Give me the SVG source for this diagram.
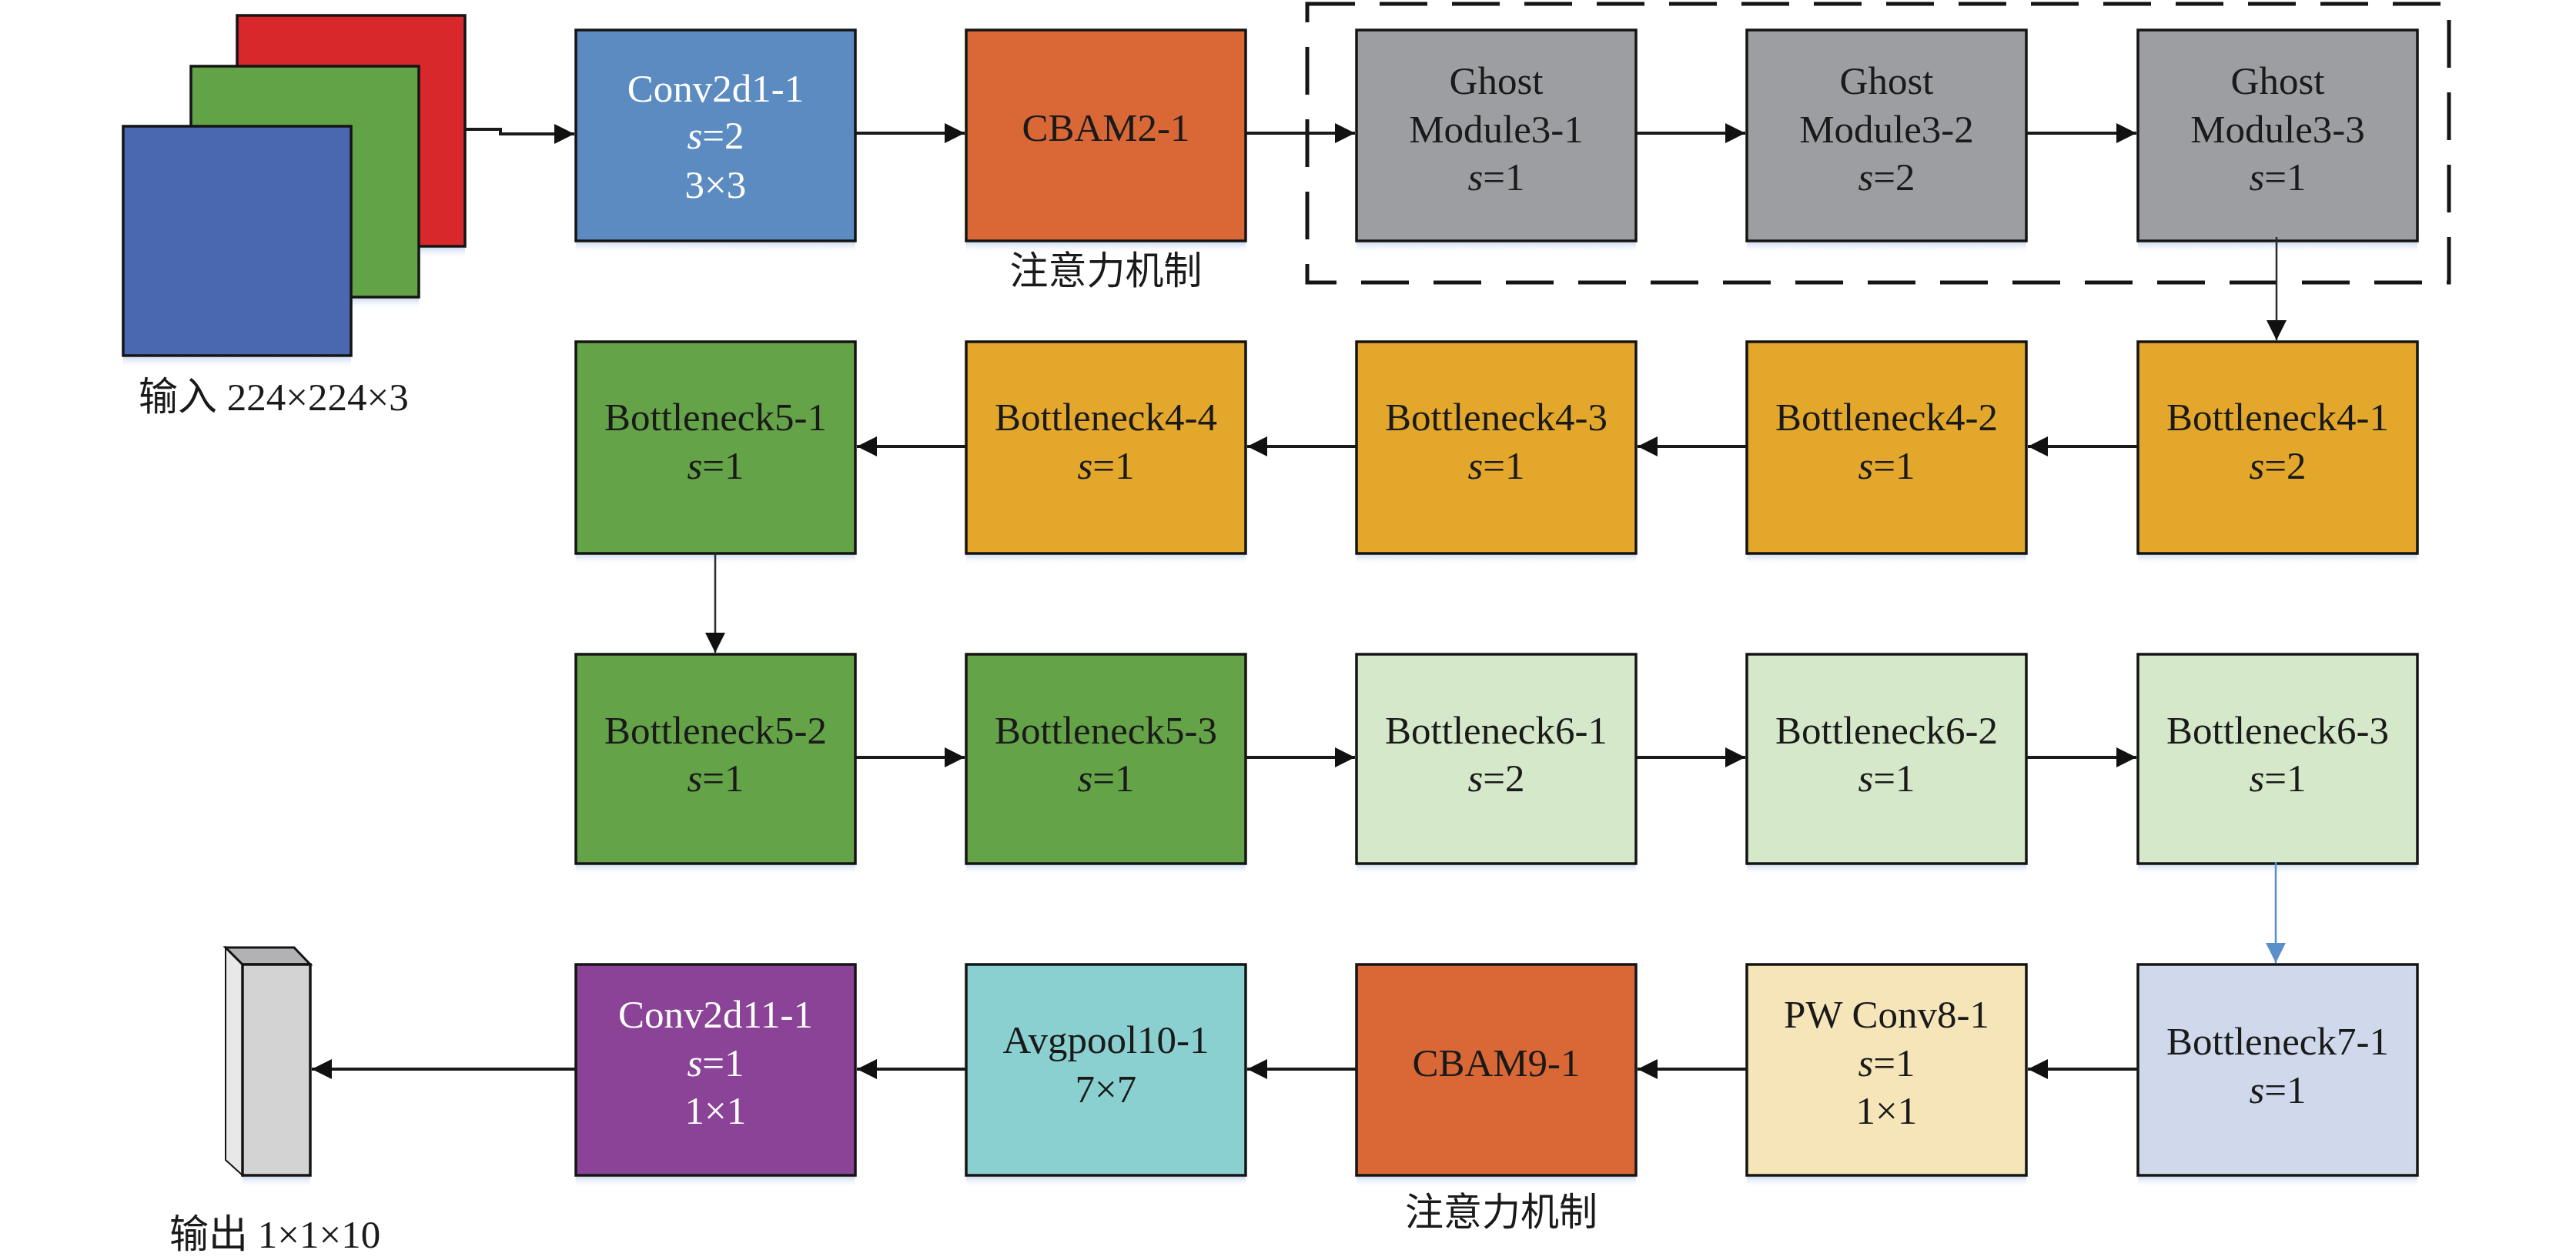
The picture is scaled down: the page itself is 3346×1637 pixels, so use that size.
<svg xmlns="http://www.w3.org/2000/svg" width="3346" height="1637" viewBox="0 0 3346 1637">
<defs>
<style>
.box{stroke:#141414;stroke-width:3.5}
.t{font-family:"Liberation Serif","Times New Roman",serif;font-size:51px;fill:#1a1a1a;text-anchor:middle}
.w{fill:#ffffff}
.i{font-style:italic}
.cn{font-family:"Liberation Serif","Noto Sans CJK SC",serif;font-size:51px;fill:#1a1a1a}
.cjk{font-family:"Noto Sans CJK SC",sans-serif;font-size:50px;fill:#1a1a1a;text-anchor:middle}
.conn{stroke:#1a1a1a;stroke-width:4;fill:none}
.vconn{stroke:#2a2a2a;stroke-width:2.5;fill:none}
.shadow{fill:url(#sh)}
</style>
<linearGradient id="sh" x1="0" y1="0" x2="0" y2="1">
<stop offset="0" stop-color="#c8d8ee" stop-opacity="0.9"/>
<stop offset="1" stop-color="#ffffff" stop-opacity="0"/>
</linearGradient>
<marker id="arr" viewBox="0 0 26 26" refX="26" refY="13" markerWidth="26" markerHeight="26" markerUnits="userSpaceOnUse" orient="auto">
<path d="M0,0 L26,13 L0,26 Z" fill="#111111"/>
</marker>
<marker id="arrb" viewBox="0 0 26 26" refX="26" refY="13" markerWidth="26" markerHeight="26" markerUnits="userSpaceOnUse" orient="auto">
<path d="M0,0 L26,13 L0,26 Z" fill="#5b8fc9"/>
</marker>
</defs>
<rect width="3346" height="1637" fill="#ffffff"/>

<!-- dashed group frame -->
<rect id="ghost-frame" x="1698" y="5" width="1483" height="362" fill="none" stroke="#151515" stroke-width="5" stroke-dasharray="62 32"/>

<!-- input stack -->
<g id="input">
<rect class="shadow" x="308" y="322" width="296" height="14"/>
<rect class="box" x="308" y="20" width="296" height="300" fill="#d8282b"/>
<rect class="shadow" x="248" y="388" width="296" height="14"/>
<rect class="box" x="248" y="86" width="296" height="300" fill="#63a347"/>
<rect class="shadow" x="160" y="464" width="296" height="14"/>
<rect class="box" x="160" y="164" width="296" height="298" fill="#4a68b0"/>
<text class="cn" x="180" y="533">输入 224×224×3</text>
</g>

<!-- row 1 -->
<g id="conv2d1-1">
<rect class="shadow" x="748" y="315" width="363" height="14"/>
<rect class="box" x="748" y="39" width="363" height="274" fill="#5b8bc0"/>
<text class="t w" x="929.5" y="132">Conv2d1-1</text>
<text class="t w" x="929.5" y="193"><tspan class="i">s</tspan>=2</text>
<text class="t w" x="929.5" y="257">3×3</text>
</g>
<g id="cbam2-1">
<rect class="shadow" x="1255" y="315" width="363" height="14"/>
<rect class="box" x="1255" y="39" width="363" height="274" fill="#d96836"/>
<text class="t" x="1436.5" y="183">CBAM2-1</text>
<text class="cjk" x="1436.5" y="369">注意力机制</text>
</g>
<g id="ghost3-1">
<rect class="shadow" x="1762" y="315" width="363" height="14"/>
<rect class="box" x="1762" y="39" width="363" height="274" fill="#9d9ea2"/>
<text class="t" x="1943.5" y="122">Ghost</text>
<text class="t" x="1943.5" y="185">Module3-1</text>
<text class="t" x="1943.5" y="247"><tspan class="i">s</tspan>=1</text>
</g>
<g id="ghost3-2">
<rect class="shadow" x="2269" y="315" width="363" height="14"/>
<rect class="box" x="2269" y="39" width="363" height="274" fill="#9d9ea2"/>
<text class="t" x="2450.5" y="122">Ghost</text>
<text class="t" x="2450.5" y="185">Module3-2</text>
<text class="t" x="2450.5" y="247"><tspan class="i">s</tspan>=2</text>
</g>
<g id="ghost3-3">
<rect class="shadow" x="2777" y="315" width="363" height="14"/>
<rect class="box" x="2777" y="39" width="363" height="274" fill="#9d9ea2"/>
<text class="t" x="2958.5" y="122">Ghost</text>
<text class="t" x="2958.5" y="185">Module3-3</text>
<text class="t" x="2958.5" y="247"><tspan class="i">s</tspan>=1</text>
</g>

<!-- row 2 -->
<g id="bottleneck5-1">
<rect class="shadow" x="748" y="720" width="363" height="14"/>
<rect class="box" x="748" y="444" width="363" height="275" fill="#64a347"/>
<text class="t" x="929.5" y="559">Bottleneck5-1</text>
<text class="t" x="929.5" y="622"><tspan class="i">s</tspan>=1</text>
</g>
<g id="bottleneck4-4">
<rect class="shadow" x="1255" y="720" width="363" height="14"/>
<rect class="box" x="1255" y="444" width="363" height="275" fill="#e3a72b"/>
<text class="t" x="1436.5" y="559">Bottleneck4-4</text>
<text class="t" x="1436.5" y="622"><tspan class="i">s</tspan>=1</text>
</g>
<g id="bottleneck4-3">
<rect class="shadow" x="1762" y="720" width="363" height="14"/>
<rect class="box" x="1762" y="444" width="363" height="275" fill="#e3a72b"/>
<text class="t" x="1943.5" y="559">Bottleneck4-3</text>
<text class="t" x="1943.5" y="622"><tspan class="i">s</tspan>=1</text>
</g>
<g id="bottleneck4-2">
<rect class="shadow" x="2269" y="720" width="363" height="14"/>
<rect class="box" x="2269" y="444" width="363" height="275" fill="#e3a72b"/>
<text class="t" x="2450.5" y="559">Bottleneck4-2</text>
<text class="t" x="2450.5" y="622"><tspan class="i">s</tspan>=1</text>
</g>
<g id="bottleneck4-1">
<rect class="shadow" x="2777" y="720" width="363" height="14"/>
<rect class="box" x="2777" y="444" width="363" height="275" fill="#e3a72b"/>
<text class="t" x="2958.5" y="559">Bottleneck4-1</text>
<text class="t" x="2958.5" y="622"><tspan class="i">s</tspan>=2</text>
</g>

<!-- row 3 -->
<g id="bottleneck5-2">
<rect class="shadow" x="748" y="1123" width="363" height="14"/>
<rect class="box" x="748" y="850" width="363" height="272" fill="#64a347"/>
<text class="t" x="929.5" y="966">Bottleneck5-2</text>
<text class="t" x="929.5" y="1028"><tspan class="i">s</tspan>=1</text>
</g>
<g id="bottleneck5-3">
<rect class="shadow" x="1255" y="1123" width="363" height="14"/>
<rect class="box" x="1255" y="850" width="363" height="272" fill="#64a347"/>
<text class="t" x="1436.5" y="966">Bottleneck5-3</text>
<text class="t" x="1436.5" y="1028"><tspan class="i">s</tspan>=1</text>
</g>
<g id="bottleneck6-1">
<rect class="shadow" x="1762" y="1123" width="363" height="14"/>
<rect class="box" x="1762" y="850" width="363" height="272" fill="#d5e8c9"/>
<text class="t" x="1943.5" y="966">Bottleneck6-1</text>
<text class="t" x="1943.5" y="1028"><tspan class="i">s</tspan>=2</text>
</g>
<g id="bottleneck6-2">
<rect class="shadow" x="2269" y="1123" width="363" height="14"/>
<rect class="box" x="2269" y="850" width="363" height="272" fill="#d5e8c9"/>
<text class="t" x="2450.5" y="966">Bottleneck6-2</text>
<text class="t" x="2450.5" y="1028"><tspan class="i">s</tspan>=1</text>
</g>
<g id="bottleneck6-3">
<rect class="shadow" x="2777" y="1123" width="363" height="14"/>
<rect class="box" x="2777" y="850" width="363" height="272" fill="#d5e8c9"/>
<text class="t" x="2958.5" y="966">Bottleneck6-3</text>
<text class="t" x="2958.5" y="1028"><tspan class="i">s</tspan>=1</text>
</g>

<!-- row 4 -->
<g id="output">
<rect class="shadow" x="315" y="1529" width="88" height="14"/>
<polygon points="293,1231 315,1253 315,1527 293,1507" fill="#e8e8e8" stroke="#141414" stroke-width="2"/>
<polygon points="293,1231 382,1231 403,1253 315,1253" fill="#b2b2b4" stroke="#141414" stroke-width="3"/>
<rect class="box" x="315" y="1253" width="88" height="274" fill="#d3d3d3"/>
<text class="cn" x="220" y="1621">输出 1×1×10</text>
</g>
<g id="conv2d11-1">
<rect class="shadow" x="748" y="1529" width="363" height="14"/>
<rect class="box" x="748" y="1253" width="363" height="274" fill="#8b4397"/>
<text class="t w" x="929.5" y="1335">Conv2d11-1</text>
<text class="t w" x="929.5" y="1398"><tspan class="i">s</tspan>=1</text>
<text class="t w" x="929.5" y="1460">1×1</text>
</g>
<g id="avgpool10-1">
<rect class="shadow" x="1255" y="1529" width="363" height="14"/>
<rect class="box" x="1255" y="1253" width="363" height="274" fill="#8ad0d0"/>
<text class="t" x="1436.5" y="1368">Avgpool10-1</text>
<text class="t" x="1436.5" y="1432">7×7</text>
</g>
<g id="cbam9-1">
<rect class="shadow" x="1762" y="1529" width="363" height="14"/>
<rect class="box" x="1762" y="1253" width="363" height="274" fill="#d96836"/>
<text class="t" x="1943.5" y="1398">CBAM9-1</text>
<text class="cjk" x="1950" y="1592">注意力机制</text>
</g>
<g id="pwconv8-1">
<rect class="shadow" x="2269" y="1529" width="363" height="14"/>
<rect class="box" x="2269" y="1253" width="363" height="274" fill="#f5e5b8"/>
<text class="t" x="2450.5" y="1335">PW Conv8-1</text>
<text class="t" x="2450.5" y="1398"><tspan class="i">s</tspan>=1</text>
<text class="t" x="2450.5" y="1460">1×1</text>
</g>
<g id="bottleneck7-1">
<rect class="shadow" x="2777" y="1529" width="363" height="14"/>
<rect class="box" x="2777" y="1253" width="363" height="274" fill="#d0d9ec"/>
<text class="t" x="2958.5" y="1370">Bottleneck7-1</text>
<text class="t" x="2958.5" y="1433"><tspan class="i">s</tspan>=1</text>
</g>

<!-- connectors -->
<g id="connectors">
<path class="conn" d="M604,168 H650 V174 H746" marker-end="url(#arr)"/>
<path class="conn" d="M1111,173 H1253" marker-end="url(#arr)"/>
<path class="conn" d="M1618,173 H1760" marker-end="url(#arr)"/>
<path class="conn" d="M2125,173 H2267" marker-end="url(#arr)"/>
<path class="conn" d="M2632,173 H2775" marker-end="url(#arr)"/>
<path class="vconn" d="M2957,308 V442" marker-end="url(#arr)"/>
<path class="conn" d="M2777,580 H2634" marker-end="url(#arr)"/>
<path class="conn" d="M2269,580 H2127" marker-end="url(#arr)"/>
<path class="conn" d="M1762,580 H1620" marker-end="url(#arr)"/>
<path class="conn" d="M1255,580 H1113" marker-end="url(#arr)"/>
<path class="vconn" d="M929,719 V848" marker-end="url(#arr)"/>
<path class="conn" d="M1111,984 H1253" marker-end="url(#arr)"/>
<path class="conn" d="M1618,984 H1760" marker-end="url(#arr)"/>
<path class="conn" d="M2125,984 H2267" marker-end="url(#arr)"/>
<path class="conn" d="M2632,984 H2775" marker-end="url(#arr)"/>
<path d="M2956,1120 V1251" stroke="#5b8fc9" stroke-width="2.5" fill="none" marker-end="url(#arrb)"/>
<path class="conn" d="M2777,1389 H2634" marker-end="url(#arr)"/>
<path class="conn" d="M2269,1389 H2127" marker-end="url(#arr)"/>
<path class="conn" d="M1762,1389 H1620" marker-end="url(#arr)"/>
<path class="conn" d="M1255,1389 H1113" marker-end="url(#arr)"/>
<path class="conn" d="M748,1389 H405" marker-end="url(#arr)"/>
</g>
</svg>
